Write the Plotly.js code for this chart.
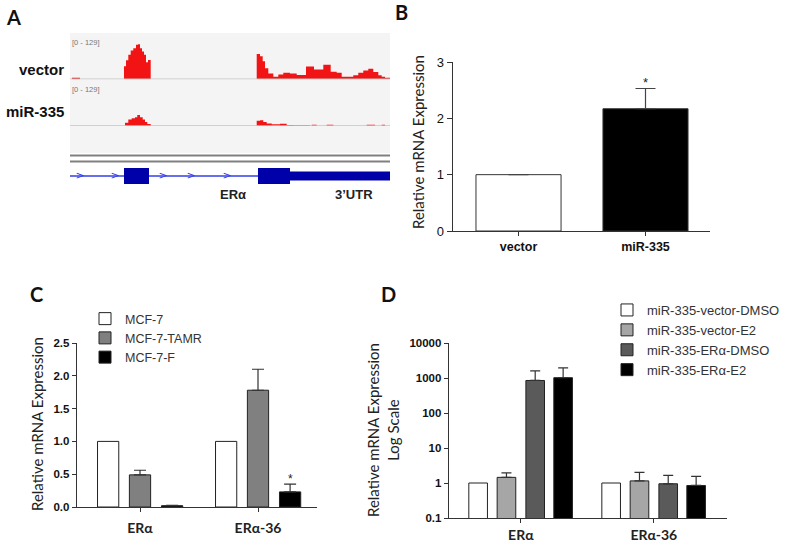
<!DOCTYPE html>
<html>
<head>
<meta charset="utf-8">
<script src="https://cdn.plot.ly/plotly-3.0.1.min.js"></script>
<style>
  html, body { margin: 0; padding: 0; background: #fff; }
  #chart { width: 800px; height: 550px; }
</style>
</head>
<body>
<div id="chart"></div>
<script>
// ---- panel A: read coverage along the locus (position, depth 0-129) ----
const locus = [0, 320];
const vectorPos = [0, 2, 10, 54, 56, 58.3, 60.7, 63.3, 66, 68, 70, 72, 74, 76, 78, 80.7,
  186.7, 190, 192.7, 195, 198.3, 203.3, 208.3, 213.3, 220, 226.7,
  236, 244, 253.3, 260.7, 266.7, 271.7, 283.3, 288.3, 293.3, 298.3, 303.3, 308.3, 311.7, 315, 320];
const vectorDepth = [0, 5, 0, 40, 58, 75, 88, 95, 105, 107, 95, 85, 75, 52, 59, 0,
  77, 70, 55, 34, 18, 8, 15, 20, 18, 13,
  39, 30, 44, 23, 20, 8, 12, 20, 27, 32, 22, 12, 8, 5, 5];
const mirPos = [0, 55, 58.3, 61.7, 65, 67.3, 70, 72.7, 75, 77.3, 80.7,
  186.7, 190, 193.3, 196.7, 201.7, 210, 216.7, 223.3, 240, 241.7, 246.7, 256.7, 263.3, 296.7, 305, 311.7, 315];
const mirDepth = [0, 10, 20, 24, 27, 34, 27, 20, 12, 6, 0,
  16, 18, 12, 8, 5, 7, 3, 2, 0, 4, 0, 4, 0, 4, 0, 4, 0];
const exonStart = [54, 188];
const exonEnd = [79, 220];
const utrStart = [220];
const utrEnd = [320];
const strandArrows = [10, 45, 93, 121, 157];

// ---- panel B ----
const groupsB = ['vector', 'miR-335'];
const valuesB = [1.0, 2.17];
const errB = [0, 0.36];

// ---- panel C ----
const groupsC = ['ERα', 'ERα-36'];
const seriesC = ['MCF-7', 'MCF-7-TAMR', 'MCF-7-F'];
const mcf7 = [1.0, 1.0];
const mcf7Tamr = [0.49, 1.78];
const mcf7F = [0.02, 0.23];
const errMcf7 = [0, 0];
const errMcf7Tamr = [0.07, 0.32];
const errMcf7F = [0.005, 0.12];

// ---- panel D (log scale) ----
const groupsD = ['ERα', 'ERα-36'];
const seriesD = ['miR-335-vector-DMSO', 'miR-335-vector-E2', 'miR-335-ERα-DMSO', 'miR-335-ERα-E2'];
const vecDmso = [1, 1];
const vecE2 = [1.45, 1.15];
const eraDmso = [850, 0.95];
const eraE2 = [1020, 0.85];
const vecDmsoTop = [1, 1];
const vecE2Top = [1.95, 2.0];
const eraDmsoTop = [1600, 1.65];
const eraE2Top = [1950, 1.55];

const px = x => x / 800;
const py = y => 1 - y / 550;
const titleFont = { family: 'Lato, sans-serif', size: 15, color: '#222' };
const catFont = { family: 'Lato, sans-serif', size: 14, weight: 'bold', color: '#222' };

const traces = [];

// A tracks
traces.push({
  x: vectorPos, y: vectorDepth, xaxis: 'x', yaxis: 'y', type: 'scatter', mode: 'lines',
  line: { shape: 'hv', width: 0, color: '#f01010' }, fill: 'tozeroy', fillcolor: '#f21414',
  showlegend: false, hoverinfo: 'skip'
});
traces.push({
  x: mirPos, y: mirDepth, xaxis: 'x', yaxis: 'y2', type: 'scatter', mode: 'lines',
  line: { shape: 'hv', width: 0, color: '#f01010' }, fill: 'tozeroy', fillcolor: '#f21414',
  showlegend: false, hoverinfo: 'skip'
});
traces.push({
  x: locus, y: [0, 0], xaxis: 'x', yaxis: 'y3', type: 'scatter', mode: 'lines',
  line: { color: '#3340e8', width: 1.5 }, showlegend: false, hoverinfo: 'skip'
});
traces.push({
  x: strandArrows, y: strandArrows.map(() => 0), xaxis: 'x', yaxis: 'y3', type: 'scatter', mode: 'text',
  text: strandArrows.map(() => '>'), textfont: { family: 'DejaVu Sans', size: 11, color: '#3340e8' },
  showlegend: false, hoverinfo: 'skip'
});

// B
traces.push({
  type: 'bar', x: groupsB, y: valuesB, xaxis: 'x2', yaxis: 'y4', width: 0.67,
  marker: { color: ['#ffffff', '#000000'], line: { color: '#333', width: 1 } },
  error_y: { type: 'data', symmetric: false, array: errB, arrayminus: [0, 0], color: '#444', thickness: 1.2, width: 10 },
  showlegend: false
});

// C
const cVals = [mcf7, mcf7Tamr, mcf7F];
const cErr = [errMcf7, errMcf7Tamr, errMcf7F];
const cColors = ['#ffffff', '#808080', '#000000'];
const cOffsets = [-0.36, -0.09, 0.182];
seriesC.forEach((name, i) => {
  traces.push({
    type: 'bar', name: name, x: groupsC, y: cVals[i], xaxis: 'x3', yaxis: 'y5',
    offset: cOffsets[i], width: 0.18, legend: 'legend',
    marker: { color: cColors[i], line: { color: '#222', width: 1 } },
    error_y: { type: 'data', symmetric: false, array: cErr[i], arrayminus: [0, 0], color: '#333', thickness: 1.2, width: 6, visible: i > 0 }
  });
});

// D
const dVals = [vecDmso, vecE2, eraDmso, eraE2];
const dTop = [vecDmsoTop, vecE2Top, eraDmsoTop, eraE2Top];
const dColors = ['#ffffff', '#a6a6a6', '#5a5a5a', '#000000'];
const dOffsets = [-0.391, -0.178, 0.038, 0.248];
seriesD.forEach((name, i) => {
  traces.push({
    type: 'bar', name: name, x: groupsD, y: dVals[i], xaxis: 'x4', yaxis: 'y6',
    offset: dOffsets[i], width: 0.14, legend: 'legend2',
    marker: { color: dColors[i], line: { color: '#222', width: 1 } },
    error_y: { type: 'data', symmetric: false, array: dTop[i].map((t, j) => t - dVals[i][j]),
      arrayminus: [0, 0], color: '#333', thickness: 1.2, width: 5, visible: i > 0 }
  });
});

const axisLine = { showline: true, linecolor: '#333', linewidth: 1.3, ticks: 'outside', tickcolor: '#333',
  showgrid: false, zeroline: false, fixedrange: true };

const shapes = [
  // track background
  { type: 'rect', xref: 'paper', yref: 'paper', x0: px(70), x1: px(390), y0: py(153), y1: py(33),
    fillcolor: '#f4f4f4', line: { width: 0 }, layer: 'below' },
  { type: 'line', xref: 'x', yref: 'y', x0: locus[0], x1: locus[1], y0: 0, y1: 0, line: { color: '#c4c4c4', width: 1.5 } },
  { type: 'line', xref: 'x', yref: 'y2', x0: locus[0], x1: locus[1], y0: 0, y1: 0, line: { color: '#c4c4c4', width: 1.5 } },
  { type: 'line', xref: 'paper', yref: 'paper', x0: px(70), x1: px(390), y0: py(155.5), y1: py(155.5), line: { color: '#808080', width: 2 } },
  { type: 'line', xref: 'paper', yref: 'paper', x0: px(70), x1: px(390), y0: py(161.5), y1: py(161.5), line: { color: '#808080', width: 2 } }
];
exonStart.forEach((s, i) => shapes.push({ type: 'rect', xref: 'x', yref: 'y3', x0: s, x1: exonEnd[i], y0: -0.8, y1: 0.8,
  fillcolor: '#0000a8', line: { width: 0 } }));
utrStart.forEach((s, i) => shapes.push({ type: 'rect', xref: 'x', yref: 'y3', x0: s, x1: utrEnd[i], y0: -0.45, y1: 0.45,
  fillcolor: '#0000a8', line: { width: 0 } }));

// paper-placed text, anchored at its centre unless told otherwise
const note = (text, x, y, font, extra) => Object.assign({ text: text, x: px(x), y: py(y), xref: 'paper', yref: 'paper',
  xanchor: 'center', yanchor: 'middle', showarrow: false, font: font }, extra || {});
const letterFont = { family: 'Lato, sans-serif', size: 20, weight: 'bold', color: '#111' };
const trackFont = { family: 'Liberation Sans', size: 15, weight: 'bold', color: '#111' };
const rangeFont = { family: 'Liberation Sans', size: 7.5, color: '#777' };
const geneFont = { family: 'Liberation Sans', size: 13, weight: 'bold', color: '#222' };

const annotations = [
  note('A', 13, 17, letterFont), note('B', 402, 12, letterFont),
  note('C', 36, 294, letterFont), note('D', 388, 294, letterFont),
  note('[0 - 129]', 70, 42, rangeFont, { xanchor: 'left' }),
  note('[0 - 129]', 70, 89, rangeFont, { xanchor: 'left' }),
  note('vector', 66, 70, trackFont, { xanchor: 'right' }),
  note('miR-335', 66, 112, trackFont, { xanchor: 'right' }),
  note('ERα', 233, 194, geneFont),
  note('3’UTR', 354, 194, geneFont),
  // axis titles
  note('Relative mRNA Expression', 418, 142, titleFont, { textangle: -90 }),
  note('Relative mRNA Expression', 37, 424, titleFont, { textangle: -90 }),
  note('Relative mRNA Expression<br>Log Scale', 383, 430, titleFont, { textangle: -90 }),
  // significance marks
  { text: '*', x: 1, y: valuesB[1] + errB[1], xref: 'x2', yref: 'y4', xanchor: 'center', yanchor: 'bottom', yshift: -4,
    showarrow: false, font: { family: 'Liberation Sans', size: 13, color: '#222' } },
  { text: '*', x: 1.272, y: mcf7F[1] + errMcf7F[1], xref: 'x3', yref: 'y5', xanchor: 'center', yanchor: 'bottom', yshift: -4,
    showarrow: false, font: { family: 'Liberation Sans', size: 12, color: '#222' } }
];

const layout = {
  width: 800, height: 550, autosize: false,
  margin: { l: 0, r: 0, t: 0, b: 0 },
  paper_bgcolor: '#fff', plot_bgcolor: 'rgba(0,0,0,0)',
  font: { family: 'Liberation Sans, Arial, sans-serif', color: '#222' },
  barmode: 'group',
  // A
  xaxis: { domain: [px(70), px(390)], range: locus, visible: false, anchor: 'y', fixedrange: true },
  yaxis: { domain: [py(79.3), py(37)], range: [0, 129], visible: false, anchor: 'x', fixedrange: true },
  yaxis2: { domain: [py(126), py(84)], range: [0, 129], visible: false, anchor: 'x', fixedrange: true },
  yaxis3: { domain: [py(186), py(166)], range: [-1, 1], visible: false, anchor: 'x', fixedrange: true },
  // B
  xaxis2: Object.assign({}, axisLine, { domain: [px(453), px(710)], anchor: 'y4', type: 'category', range: [-0.516, 1.508],
    ticklen: 4, tickfont: { family: 'Liberation Sans', size: 12.5, weight: 'bold', color: '#111' } }),
  yaxis4: Object.assign({}, axisLine, { domain: [py(231), py(62)], anchor: 'x2', range: [0, 3], tickvals: [0, 1, 2, 3],
    ticklen: 5, tickfont: { family: 'Liberation Sans', size: 13, color: '#111' } }),
  // C
  xaxis3: Object.assign({}, axisLine, { domain: [px(77), px(317)], anchor: 'y5', type: 'category', range: [-0.534, 1.5],
    ticklen: 4, ticklabelstandoff: 4, tickfont: catFont }),
  yaxis5: Object.assign({}, axisLine, { domain: [py(507), py(343)], anchor: 'x3', range: [0, 2.5], dtick: 0.5, tickformat: '.1f',
    ticklen: 4, tickfont: { family: 'Liberation Sans', size: 11.5, weight: 'bold', color: '#111' } }),
  // D
  xaxis4: Object.assign({}, axisLine, { domain: [px(449), px(727)], anchor: 'y6', type: 'category', range: [-0.54, 1.55],
    ticklen: 4, ticklabelstandoff: 0, tickfont: catFont }),
  yaxis6: Object.assign({}, axisLine, { domain: [py(518), py(343)], anchor: 'x4', type: 'log', range: [-1, 4],
    tickvals: [0.1, 1, 10, 100, 1000, 10000], ticktext: ['0.1', '1', '10', '100', '1000', '10000'],
    ticklen: 4, tickfont: { family: 'Liberation Sans', size: 11.5, weight: 'bold', color: '#111' } }),
  legend: { x: px(85), y: py(304), xanchor: 'left', yanchor: 'top', bgcolor: 'rgba(0,0,0,0)',
    font: { family: 'Liberation Sans', size: 12.5, color: '#333' } },
  legend2: { x: px(607), y: py(295), xanchor: 'left', yanchor: 'top', bgcolor: 'rgba(0,0,0,0)',
    font: { family: 'Liberation Sans', size: 13, color: '#333' } },
  shapes: shapes,
  annotations: annotations
};

Plotly.newPlot('chart', traces, layout, { displayModeBar: false, staticPlot: true });
</script>
</body>
</html>
